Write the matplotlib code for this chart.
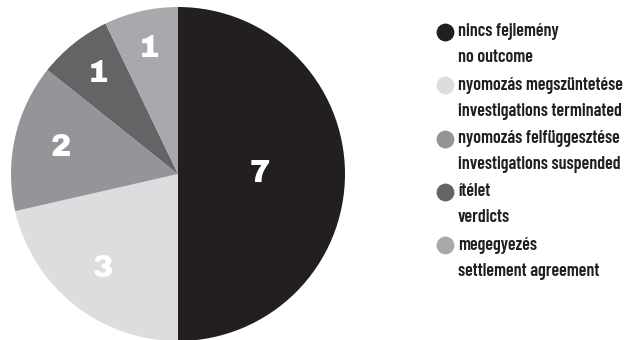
import matplotlib
matplotlib.use("Agg")
import matplotlib.pyplot as plt
import numpy as np

values = [7, 3, 2, 1, 1]
colors = ["#231f20", "#dcdddf", "#939598", "#636466", "#a7a9ac"]
labels_hu = ["nincs fejlemény", "nyomozás megszüntetése", "nyomozás felfüggesztése",
             "ítélet", "megegyezés"]
labels_en = ["no outcome", "investigations terminated", "investigations suspended",
             "verdicts", "settlement agreement"]
label_dist = [0.49, 0.72, 0.72, 0.77, 0.77]

num_font = ["Archivo Black", "DejaVu Sans"]
cond = ["Barlow Condensed", "Roboto Condensed", "DejaVu Sans"]

fig = plt.figure(figsize=(6.26, 3.4), dpi=100)
ax = fig.add_axes([11 / 626, -1 / 340, 334 / 626, 334 / 340])
wedges, _ = ax.pie(values, colors=colors, startangle=90, counterclock=False,
                   wedgeprops=dict(linewidth=0))
ax.set_xlim(-1, 1)
ax.set_ylim(-1, 1)
ax.set_aspect("equal")
ax.axis("off")

for w, v, d in zip(wedges, values, label_dist):
    ang = np.deg2rad((w.theta1 + w.theta2) / 2)
    ax.text(d * np.cos(ang), d * np.sin(ang), str(v), ha="center", va="center",
            color="white", fontsize=22, family=num_font)

lax = fig.add_axes([0, 0, 1, 1])
lax.set_xlim(0, 626)
lax.set_ylim(340, 0)
lax.axis("off")
for i, (hu, en, c) in enumerate(zip(labels_hu, labels_en, colors)):
    y = 32 + i * 53.3
    lax.scatter([445], [y], s=165, color=c, linewidths=0)
    lax.text(458, y, hu, va="center", ha="left", fontsize=13, fontweight=600,
             family=cond, color="#231f20")
    lax.text(458, y + 26, en, va="center", ha="left", fontsize=13, fontweight=600,
             family=cond, color="#231f20")

fig.savefig("out.png", dpi=100)
